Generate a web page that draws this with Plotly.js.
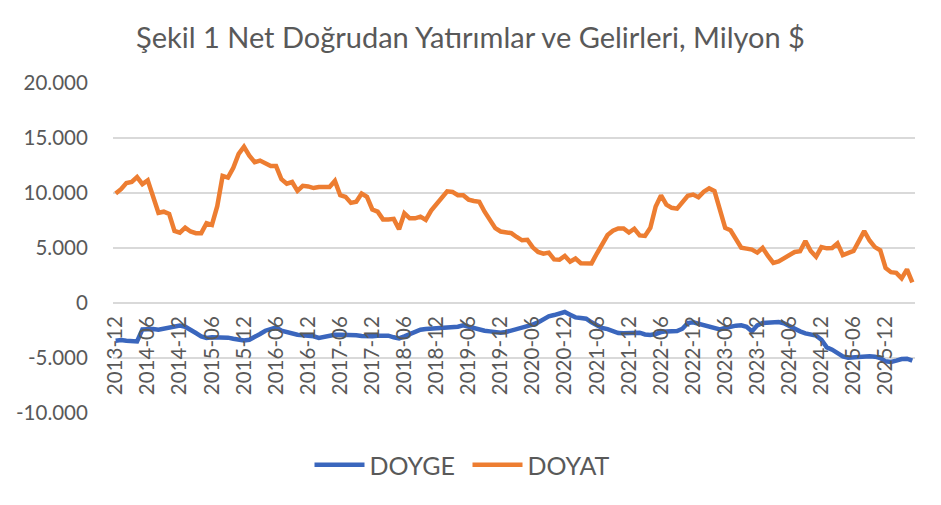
<!DOCTYPE html>
<html>
<head>
<meta charset="utf-8">
<script src="https://cdn.plot.ly/plotly-3.0.1.min.js"></script>
<style>html,body{margin:0;padding:0;background:#fff;}#chart{width:941px;height:505px;}</style>
</head>
<body>
<div id="chart"></div>
<script>
// Monthly categories 2013-12 … 2026-05
var startYear = 2013, startMonth = 12, nMonths = 150;
var months = [];
for (var k = 0; k < nMonths; k++) {
  var m = startMonth - 1 + k;
  var yy = startYear + Math.floor(m / 12);
  var mm = (m % 12) + 1;
  months.push(yy + '-' + (mm < 10 ? '0' + mm : mm));
}

var tickLabels = ["2013-12","2014-06","2014-12","2015-06","2015-12","2016-06","2016-12",
  "2017-06","2017-12","2018-06","2018-12","2019-06","2019-12","2020-06","2020-12",
  "2021-06","2021-12","2022-06","2022-12","2023-06","2023-12","2024-06","2024-12",
  "2025-06","2025-12"];

var yTickVals = [20000, 15000, 10000, 5000, 0, -5000, -10000];
var yTickText = ["20.000", "15.000", "10.000", "5.000", "0", "-5.000", "-10.000"];

var doyge = [
  -3430,-3370,-3430,-3430,-3490,-2400,-2370,-2370,-2430,-2340,
  -2210,-2090,-2060,-2155,-2400,-2730,-3030,-3180,-3120,-3120,
  -3120,-3150,-3245,-3305,-3400,-3340,-3120,-2820,-2520,-2370,
  -2215,-2520,-2670,-2760,-2880,-2940,-2940,-3030,-3180,-3060,
  -2940,-2880,-2880,-2880,-2940,-2940,-3000,-3030,-3030,-2980,
  -2940,-2970,-3120,-3215,-3030,-2820,-2580,-2430,-2370,-2340,
  -2340,-2275,-2215,-2245,-2155,-2030,-2155,-2340,-2460,-2520,
  -2580,-2640,-2700,-2640,-2520,-2430,-2305,-2155,-1970,-1760,
  -1490,-1215,-1095,-1000,-820,-1065,-1305,-1365,-1430,-1760,
  -2060,-2275,-2370,-2580,-2730,-2760,-2730,-2670,-2700,-2860,
  -2910,-2820,-2640,-2580,-2580,-2550,-2340,-1820,-1760,-1880,
  -2030,-2155,-2275,-2400,-2275,-2125,-2060,-2030,-2155,-2580,
  -2030,-1820,-1820,-1760,-1730,-1850,-2125,-2340,-2580,-2760,
  -2820,-2970,-3340,-4030,-4245,-4550,-4850,-4970,-4940,-4850,
  -4850,-4850,-4880,-5000,-5300,-5365,-5245,-5090,-5060,-5245
];

var doyat = [
  9950,10350,10900,11000,11450,10800,11150,9700,8200,8300,
  8100,6550,6400,6850,6500,6350,6350,7250,7100,8800,
  11550,11400,12300,13550,14200,13400,12800,12950,12700,12450,
  12450,11250,10850,11000,10200,10650,10600,10450,10550,10550,
  10550,11100,9800,9650,9100,9200,9950,9650,8500,8300,
  7600,7600,7650,6700,8150,7700,7700,7850,7550,8400,
  8950,9600,10150,10100,9800,9800,9400,9280,9200,8300,
  7550,6800,6500,6420,6350,6000,5700,5750,5060,4640,
  4480,4580,3960,3930,4280,3750,4040,3620,3560,3600,
  4500,5450,6180,6570,6770,6780,6410,6750,6140,6100,
  6830,8770,9780,8950,8650,8580,9200,9750,9860,9620,
  10120,10420,10180,8440,6820,6610,5750,5030,4940,4850,
  4580,5010,4280,3650,3780,4030,4330,4640,4710,5630,
  4730,4210,5080,4970,5000,5420,4360,4540,4730,5630,
  6540,5680,5080,4800,3180,2800,2740,2240,3050,1870
];

var FONT = 'Lato, "Open Sans", sans-serif';
var GREY = '#595959';

var traces = [
  {x: months, y: doyge, type: 'scatter', mode: 'lines', name: 'DOYGE',
   line: {color: '#3a66bd', width: 4.5}},
  {x: months, y: doyat, type: 'scatter', mode: 'lines', name: 'DOYAT',
   line: {color: '#ed7d31', width: 4.5}}
];

var layout = {
  width: 941, height: 505,
  margin: {l: 113, r: 26, t: 83, b: 92, pad: 0},
  paper_bgcolor: '#fff', plot_bgcolor: '#fff',
  font: {family: FONT, color: GREY, size: 20},
  title: {text: 'Şekil 1 Net Doğrudan Yatırımlar ve Gelirleri, Milyon $',
          font: {family: FONT, size: 29, color: GREY},
          x: (133 + 808) / 2 / 941, xref: 'container', xanchor: 'center',
          y: 1 - 38/505, yref: 'container', yanchor: 'middle'},
  xaxis: {type: 'category', range: [-0.5, nMonths - 0.5],
          tickmode: 'array', tickvals: tickLabels, ticktext: tickLabels,
          tickangle: -90, showgrid: false, zeroline: false, showline: false,
          ticks: 'outside', ticklen: 4, tickcolor: 'rgba(0,0,0,0)',
          anchor: 'free', position: 1/3,
          tickfont: {family: FONT, size: 20.5, color: GREY}, fixedrange: true},
  yaxis: {range: [-10000, 20000], domain: [0, 1],
          tickmode: 'array', tickvals: yTickVals, ticktext: yTickText,
          showgrid: true, gridcolor: '#d9d9d9', gridwidth: 1.5,
          zeroline: false, showline: false,
          ticks: 'outside', ticklen: 20, tickcolor: 'rgba(0,0,0,0)',
          tickfont: {family: FONT, size: 20.5, color: GREY}, fixedrange: true},
  showlegend: true,
  legend: {orientation: 'h', xref: 'container', x: 467.5/941, xanchor: 'center',
           yref: 'container', y: 1 - 465/505, yanchor: 'middle',
           font: {family: FONT, size: 25, color: GREY}, itemwidth: 50,
           entrywidth: 93, traceorder: 'normal'}
};

Plotly.newPlot('chart', traces, layout, {displayModeBar: false, staticPlot: true});
</script>
</body>
</html>
